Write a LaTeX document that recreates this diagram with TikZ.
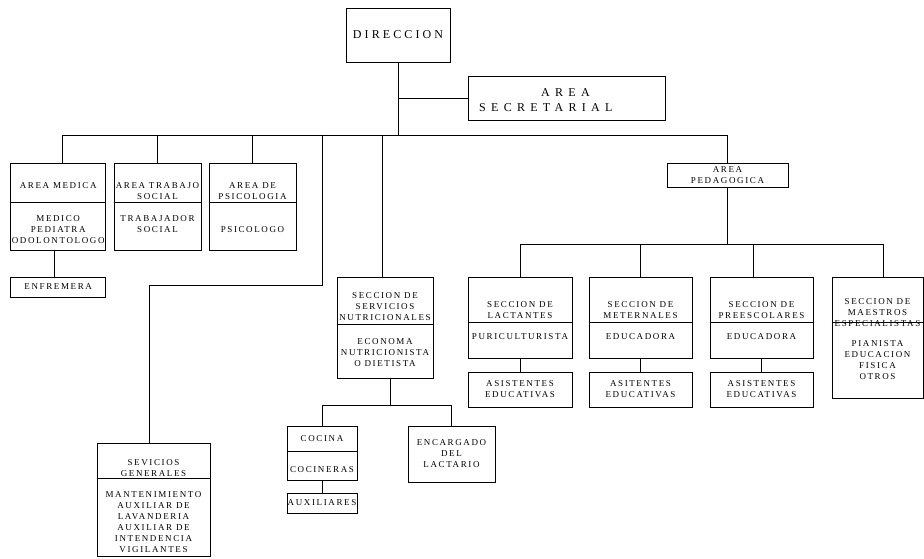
\documentclass[tikz,border=0pt]{standalone}
\usepackage{fontspec}
\setmainfont{Liberation Serif}[LetterSpace=18]

\begin{document}
\begin{tikzpicture}[
    x=1pt, y=-1pt,
    box/.style={draw, line width=0.9pt, inner sep=0pt},
    txt/.style={inner sep=0pt, align=center, font=\fontsize{9}{11}\selectfont},
    big/.style={inner sep=0pt, align=center, font=\fontsize{12}{15.5}\selectfont\addfontfeature{LetterSpace=26}},
    link/.style={line width=0.9pt}
]
\useasboundingbox (0,0) rectangle (924,559);

% top
\node[box, big, minimum width=104, minimum height=54] (dir) at (398,35) {DIRECCION};
\node[box, minimum width=197, minimum height=44] (secr) at (566.5,98) {};
\node[big, align=left, anchor=west, font=\fontsize{12}{15.5}\selectfont\addfontfeature{LetterSpace=44}] (secrT) at (479,100) {\hspace*{62pt}AREA\\SECRETARIAL};

% areas
\node[box, minimum width=95, minimum height=87] (medica) at (58.2,206.5) {};
\node[box, minimum width=87, minimum height=87] (trabajo) at (157.5,206.5) {};
\node[box, minimum width=87, minimum height=87] (psico) at (252.5,206.5) {};
\draw[link] ([yshift=-40pt]medica.north west) -- ([yshift=-40pt]medica.north east);
\draw[link] ([yshift=-40pt]trabajo.north west) -- ([yshift=-40pt]trabajo.north east);
\draw[link] ([yshift=-40pt]psico.north west) -- ([yshift=-40pt]psico.north east);
\node[txt, anchor=north] (medicaT) at (58.2,182) {AREA MEDICA};
\node[txt, anchor=north] (medicaL) at (58.2,215.7) {MEDICO\\PEDIATRA\\ODOLONTOLOGO};
\node[txt, anchor=north] (trabajoT) at (157.5,182) {AREA TRABAJO\\SOCIAL};
\node[txt, anchor=north] (trabajoL) at (157.5,215.7) {TRABAJADOR\\SOCIAL};
\node[txt, anchor=north] (psicoT) at (252.5,182) {AREA DE\\PSICOLOGIA};
\node[txt, anchor=north] (psicoL) at (252.5,226.7) {PSICOLOGO};
\node[box, txt, minimum width=95, minimum height=20] (enfer) at (58.2,287) {ENFREMERA};

% servicios
\node[box, minimum width=96, minimum height=101] (nutri) at (385,327.5) {};
\draw[link] ([yshift=-48pt]nutri.north west) -- ([yshift=-48pt]nutri.north east);
\node[txt, anchor=north] (nutriT) at (385,292.7) {SECCION DE\\SERVICIOS\\NUTRICIONALES};
\node[txt, anchor=north] (nutriL) at (385,338.3) {ECONOMA\\NUTRICIONISTA\\O DIETISTA};
\node[box, minimum width=70, minimum height=54] (cocina) at (322,453) {};
\draw[link] ([yshift=-26pt]cocina.north west) -- ([yshift=-26pt]cocina.north east);
\node[txt, anchor=north] (cocinaT) at (322,435) {COCINA};
\node[txt, anchor=north] (cocinaL) at (322,466.7) {COCINERAS};
\node[box, txt, minimum width=70, minimum height=20] (auxil) at (322,503) {AUXILIARES};
\node[box, txt, minimum width=87, minimum height=56] (lactario) at (451.5,454) {ENCARGADO\\DEL\\LACTARIO};
\node[box, minimum width=113, minimum height=113] (servg) at (153.5,499.5) {};
\draw[link] ([yshift=-36pt]servg.north west) -- ([yshift=-36pt]servg.north east);
\node[txt, anchor=north] (servgT) at (153.5,459.3) {SEVICIOS\\GENERALES};
\node[txt, anchor=north] (servgL) at (153.5,491) {MANTENIMIENTO\\AUXILIAR DE\\LAVANDERIA\\AUXILIAR DE\\INTENDENCIA\\VIGILANTES};

% pedagogica
\node[box, txt, minimum width=121, minimum height=24] (pedag) at (727.5,175) {AREA\\PEDAGOGICA};
\node[box, minimum width=104, minimum height=81] (lact) at (520,317.5) {};
\node[box, minimum width=103, minimum height=81] (meter) at (640.5,317.5) {};
\node[box, minimum width=103, minimum height=81] (prees) at (761.5,317.5) {};
\node[box, minimum width=91, minimum height=121] (maestros) at (877.5,337.5) {};
\draw[link] ([yshift=-46pt]lact.north west) -- ([yshift=-46pt]lact.north east);
\draw[link] ([yshift=-46pt]meter.north west) -- ([yshift=-46pt]meter.north east);
\draw[link] ([yshift=-46pt]prees.north west) -- ([yshift=-46pt]prees.north east);
\draw[link] ([yshift=-46pt]maestros.north west) -- ([yshift=-46pt]maestros.north east);
\node[txt, anchor=north] (lactT) at (520,301.7) {SECCION DE\\LACTANTES};
\node[txt, anchor=north] (lactL) at (520,333.3) {PURICULTURISTA};
\node[txt, anchor=north] (meterT) at (640.5,301.7) {SECCION DE\\METERNALES};
\node[txt, anchor=north] (meterL) at (640.5,333.3) {EDUCADORA};
\node[txt, anchor=north] (preesT) at (761.5,301.7) {SECCION DE\\PREESCOLARES};
\node[txt, anchor=north] (preesL) at (761.5,333.3) {EDUCADORA};
\node[txt, anchor=north] (maestrosT) at (877.5,298.3) {SECCION DE\\MAESTROS\\ESPECIALISTAS};
\node[txt, anchor=north] (maestrosL) at (877.5,340.7) {PIANISTA\\EDUCACION\\FISICA\\OTROS};
\node[box, txt, minimum width=104, minimum height=35] (astLact) at (520,389.5) {ASISTENTES\\EDUCATIVAS};
\node[box, txt, minimum width=103, minimum height=35] (astMet) at (640.5,389.5) {ASITENTES\\EDUCATIVAS};
\node[box, txt, minimum width=103, minimum height=35] (astPre) at (761.5,389.5) {ASISTENTES\\EDUCATIVAS};

% connectors
\coordinate (bus) at (0,135);
\coordinate (bus2) at (0,244);
\coordinate (bus3) at (0,405);
\coordinate (sgBend) at (322,285);
\draw[link] (dir) -- (dir |- bus);
\draw[link] (secr) -- (secr -| dir);
\draw[link] ([xshift=4pt]medica.north |- bus) -- (pedag |- bus);
\draw[link] ([xshift=4pt]medica.north) -- ([xshift=4pt]medica.north |- bus);
\draw[link] (trabajo) -- (trabajo |- bus);
\draw[link] (psico) -- (psico |- bus);
\draw[link] ([xshift=-3pt]nutri.north) -- ([xshift=-3pt]nutri.north |- bus);
\draw[link] (pedag) -- (pedag |- bus);
\draw[link] (sgBend |- bus) -- (sgBend) -| ([xshift=-4.5pt]servg.north);
\draw[link] ([xshift=-4pt]medica.south) -- ([xshift=-4pt]medica.south |- enfer.north);
\draw[link] ([xshift=5pt]nutri.south) -- ([xshift=5pt]nutri.south |- bus3);
\draw[link] (cocina) -- (cocina |- bus3) -| (lactario);
\draw[link] (cocina) -- (auxil);
\draw[link] (pedag) -- (pedag |- bus2);
\draw[link] (lact) -- (lact |- bus2) -| ([xshift=6pt]maestros.north);
\draw[link] (meter) -- (meter |- bus2);
\draw[link] ([xshift=-8.5pt]prees.north) -- ([xshift=-8.5pt]prees.north |- bus2);
\draw[link] (lact) -- (astLact);
\draw[link] (meter) -- (astMet);
\draw[link] (prees) -- (astPre);

\end{tikzpicture}
\end{document}
